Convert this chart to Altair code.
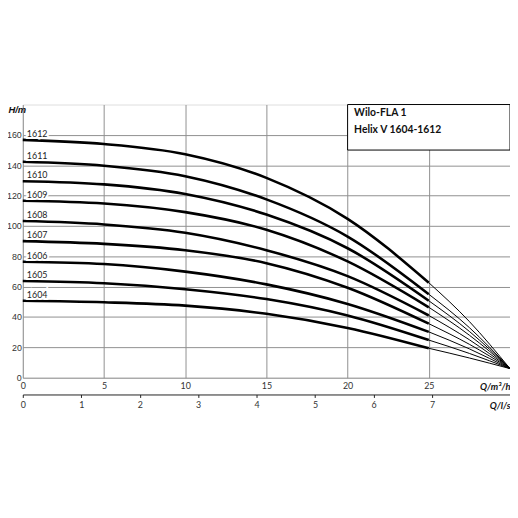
import altair as alt
import pandas as pd

curves = ["1612", "1611", "1610", "1609", "1608", "1607", "1606", "1605", "1604"]

# thick (working range) part of each curve, Q in m3/h
q_thick = [0, 5, 10, 15, 20, 25]
h_thick = {
    "1612": [156.7, 154.0, 147.3, 131.7, 104.7, 62.6],
    "1611": [142.3, 139.7, 132.8, 117.5, 93.0, 55.0],
    "1610": [129.5, 127.4, 121.1, 107.5, 85.3, 50.7],
    "1609": [116.6, 114.8, 109.1, 97.5, 76.6, 46.4],
    "1608": [103.2, 101.0, 95.5, 84.0, 66.9, 41.0],
    "1607": [90.0, 88.2, 84.0, 75.5, 59.3, 35.6],
    "1606": [76.4, 74.9, 69.9, 61.5, 48.6, 30.2],
    "1605": [63.7, 62.2, 58.3, 51.8, 41.0, 24.8],
    "1604": [50.7, 49.7, 47.5, 42.1, 32.8, 19.4],
}

# thin (extension) part of each curve
q_thin = [25, 27.5, 30]
h_thin = {
    "1612": [62.6, 37.0, 6.0],
    "1611": [55.0, 33.0, 6.0],
    "1610": [50.7, 30.5, 6.0],
    "1609": [46.4, 28.0, 6.0],
    "1608": [41.0, 25.0, 6.0],
    "1607": [35.6, 22.0, 6.0],
    "1606": [30.2, 19.0, 6.0],
    "1605": [24.8, 16.0, 6.0],
    "1604": [19.4, 13.0, 6.0],
}

label_q = [0.25] * len(curves)
label_h = [h_thick[c][0] for c in curves]

x_ticks = [0, 5, 10, 15, 20, 25]
y_ticks = [0, 20, 40, 60, 80, 100, 120, 140, 160]
ls_ticks = [0, 1, 2, 3, 4, 5, 6, 7]

title_lines = ["Wilo\u2011FLA 1", "Helix V 1604\u20111612"]
title_q = [20.4, 20.4]
title_h = [174.2, 163.2]
box_q = [20, 30]
box_h = [150, 180]

FONT = "Lato"
NARROW = "Liberation Sans Narrow, Liberation Sans"

thick_df = pd.DataFrame(
    [{"Q": q, "H": h, "curve": c} for c in curves for q, h in zip(q_thick, h_thick[c])]
)
thin_df = pd.DataFrame(
    [{"Q": q, "H": h, "curve": c} for c in curves for q, h in zip(q_thin, h_thin[c])]
)
label_df = pd.DataFrame({"Q": label_q, "H": label_h, "label": curves})
title_df = pd.DataFrame({"Q": title_q, "H": title_h, "text": title_lines})
box_df = pd.DataFrame({"Q": [box_q[0]], "q2": [box_q[1]], "H": [box_h[0]], "h2": [box_h[1]]})
ls_df = pd.DataFrame({"Qls": [0, 30 / 3.6]})

xscale = alt.Scale(domain=[0, 30], nice=False)
yscale = alt.Scale(domain=[0, 180], nice=False)

xaxis = alt.Axis(
    values=x_ticks, grid=True, gridColor="#8f8f8f", gridWidth=1, ticks=False, domain=False,
    labelFont=FONT, labelFontSize=9, labelColor="#333", labelPadding=3.5, labelFlush=False,
    labelOverlap=False,
    title="Q/m\u00b3/h", titleFont=FONT, titleFontSize=9.5, titleFontWeight="bold",
    titleFontStyle="italic", titleX=494, titleY=8.5, titleAlign="right", titleBaseline="middle",
    titleColor="#111",
)
yaxis = alt.Axis(
    values=y_ticks, grid=True, gridColor="#8f8f8f", gridWidth=1, ticks=False, domain=False,
    labelFont=NARROW, labelFontSize=9, labelColor="#333", labelPadding=1.5, labelOverlap=False,
    title="H/m", titleFont=NARROW, titleFontSize=9.5, titleFontWeight="bold",
    titleFontStyle="italic", titleAngle=0, titleX=-15, titleY=5, titleAlign="left",
    titleBaseline="middle", titleColor="#111",
)


def X():
    return alt.X("Q:Q", scale=xscale, axis=xaxis)


def Y():
    return alt.Y("H:Q", scale=yscale, axis=yaxis)


box = alt.Chart(box_df).mark_rect(fill="white", stroke="black", strokeWidth=1).encode(
    x=X(), x2="q2", y=Y(), y2="h2",
)

thin = alt.Chart(thin_df).mark_line(color="black", strokeWidth=1, interpolate="monotone").encode(
    x=X(), y=Y(), detail="curve:N",
)
thick = alt.Chart(thick_df).mark_line(color="black", strokeWidth=2.6, interpolate="monotone").encode(
    x=X(), y=Y(), detail="curve:N",
)

halo = alt.Chart(label_df).mark_text(
    align="left", baseline="bottom", dy=-1, font=FONT, fontSize=9, color="white",
    stroke="white", strokeWidth=4,
).encode(x=X(), y=Y(), text="label:N")
labels = alt.Chart(label_df).mark_text(
    align="left", baseline="bottom", dy=-1, font=FONT, fontSize=9, color="#222",
).encode(x=X(), y=Y(), text="label:N")

titles = alt.Chart(title_df).mark_text(
    align="left", baseline="middle", font=FONT, fontSize=10.5, fontWeight="bold", color="#111",
).encode(x=X(), y=Y(), text="text:N")

main = alt.layer(box, thin, thick, halo, labels, titles)

ls_axis = alt.Axis(
    values=ls_ticks, orient="bottom", offset=17, grid=False, domain=True, domainColor="#222",
    domainWidth=1, ticks=True, tickSize=3, tickColor="#222", labelFont=FONT, labelFontSize=9,
    labelColor="#333", labelPadding=3, labelFlush=False, labelOverlap=False,
    title="Q/l/s", titleFont=FONT, titleFontSize=9.5, titleFontWeight="bold",
    titleFontStyle="italic", titleX=494, titleY=11, titleAlign="right", titleBaseline="middle",
    titleColor="#111",
)
ls_layer = alt.Chart(ls_df).mark_point(opacity=0).encode(
    x=alt.X("Qls:Q", scale=alt.Scale(domain=[0, 30 / 3.6], nice=False), axis=ls_axis),
)

chart = (
    alt.layer(main, ls_layer)
    .resolve_scale(x="independent")
    .properties(
        width=494, height=277,
        autosize=alt.AutoSizeParams(type="none"),
        padding={"left": 15, "top": 95, "right": 0, "bottom": 40},
    )
    .configure_view(stroke="black", strokeWidth=1.5)
    .configure(background="white")
)

chart.save("out.html", embed_options={"renderer": "svg", "actions": False})
